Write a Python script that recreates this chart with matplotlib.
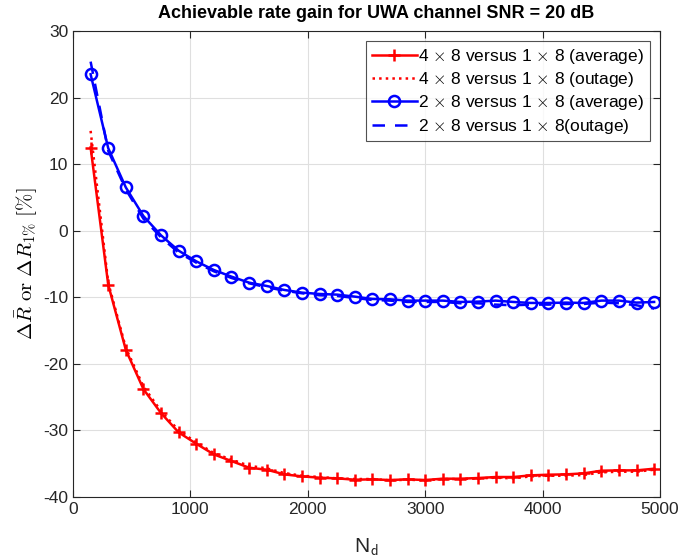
import numpy as np
import matplotlib
matplotlib.use("Agg")
import matplotlib.pyplot as plt

plt.rcParams['font.family'] = ['Liberation Sans', 'DejaVu Sans']
plt.rcParams['mathtext.fontset'] = 'cm'
plt.rcParams['axes.unicode_minus'] = False

# N_d values (step 150)
nd = np.arange(150, 5000, 150)

# 4x8 vs 1x8
red_avg = [12.5, -8.1, -17.9, -23.8, -27.4, -30.3, -32.0, -33.6, -34.6, -35.6,
           -35.9, -36.6, -36.9, -37.1, -37.2, -37.4, -37.35, -37.45, -37.35, -37.45,
           -37.25, -37.25, -37.15, -37.0, -37.0, -36.75, -36.65, -36.6, -36.45, -36.05,
           -36.0, -36.0, -35.75]
red_out = [15.0, -7.8, -17.6, -23.4, -27.1, -30.0, -31.8, -33.4, -34.4, -35.3,
           -35.7, -36.4, -36.8, -37.0, -37.2, -37.3, -37.3, -37.5, -37.4, -37.5,
           -37.3, -37.3, -37.2, -37.1, -37.2, -36.9, -36.8, -36.8, -36.7, -36.3,
           -36.2, -36.2, -35.9]

# 2x8 vs 1x8
blue_avg = [23.5, 12.4, 6.5, 2.2, -0.7, -3.0, -4.6, -5.9, -6.9, -7.8,
            -8.3, -8.9, -9.3, -9.5, -9.6, -9.9, -10.25, -10.3, -10.5, -10.5,
            -10.5, -10.7, -10.65, -10.5, -10.7, -10.85, -10.85, -10.8, -10.85, -10.5,
            -10.5, -10.8, -10.7]
blue_out = [25.4, 12.0, 6.2, 1.8, -1.0, -3.3, -4.8, -6.1, -7.1, -7.9,
            -8.5, -9.0, -9.4, -9.7, -9.8, -10.1, -10.4, -10.5, -10.7, -10.7,
            -10.7, -10.9, -10.9, -11.1, -11.2, -11.1, -11.1, -11.0, -11.0, -10.8,
            -10.9, -11.2, -11.7]

fig = plt.figure(figsize=(6.83, 5.57), dpi=100)
ax = fig.add_axes([73 / 683, 1 - 497 / 557, 587 / 683, 466 / 557])

ax.plot(nd, red_avg, color='red', lw=1.8, marker='+', ms=9, mew=1.8,
        label=r'4 $\times$ 8 versus 1 $\times$ 8 (average)')
ax.plot(nd, red_out, color='red', lw=1.8, ls=':',
        label=r'4 $\times$ 8 versus 1 $\times$ 8 (outage)')
ax.plot(nd, blue_avg, color='blue', lw=1.8, marker='o', ms=8, mew=1.8, mfc='none',
        label=r'2 $\times$ 8 versus 1 $\times$ 8 (average)')
ax.plot(nd, blue_out, color='blue', lw=1.8, ls=(0, (5, 4)),
        label=r'2 $\times$ 8 versus 1 $\times$ 8(outage)')

ax.set_xlim(0, 5000)
ax.set_ylim(-40, 30)
ax.set_xticks(np.arange(0, 5001, 1000))
ax.set_yticks(np.arange(-40, 31, 10))
ax.grid(True, color='#dfdfdf', lw=0.8)
ax.set_axisbelow(True)
ax.tick_params(direction='in', top=True, right=True, labelsize=12.5,
               colors='#262626', length=5)
for s in ax.spines.values():
    s.set_color('#262626')
    s.set_linewidth(0.8)

ax.set_title('Achievable rate gain for UWA channel SNR = 20 dB',
             fontsize=13, fontweight='bold', pad=9, x=0.517)
ax.set_xlabel(r'N$_\mathsf{d}$', fontsize=15, color='#262626', labelpad=14)
ax.set_ylabel(r'$\Delta \bar{R}\ \mathrm{or}\ \Delta R_{1\%}\ [\%]$', fontsize=15, labelpad=2)

leg = ax.legend(loc='upper right', fontsize=12.5, frameon=True, fancybox=False,
                edgecolor='#262626', handlelength=2.6, handletextpad=0.1,
                borderaxespad=0.6, labelspacing=0.25, borderpad=0.3)
leg.get_frame().set_linewidth(0.8)

fig.savefig('out.png', dpi=100)
